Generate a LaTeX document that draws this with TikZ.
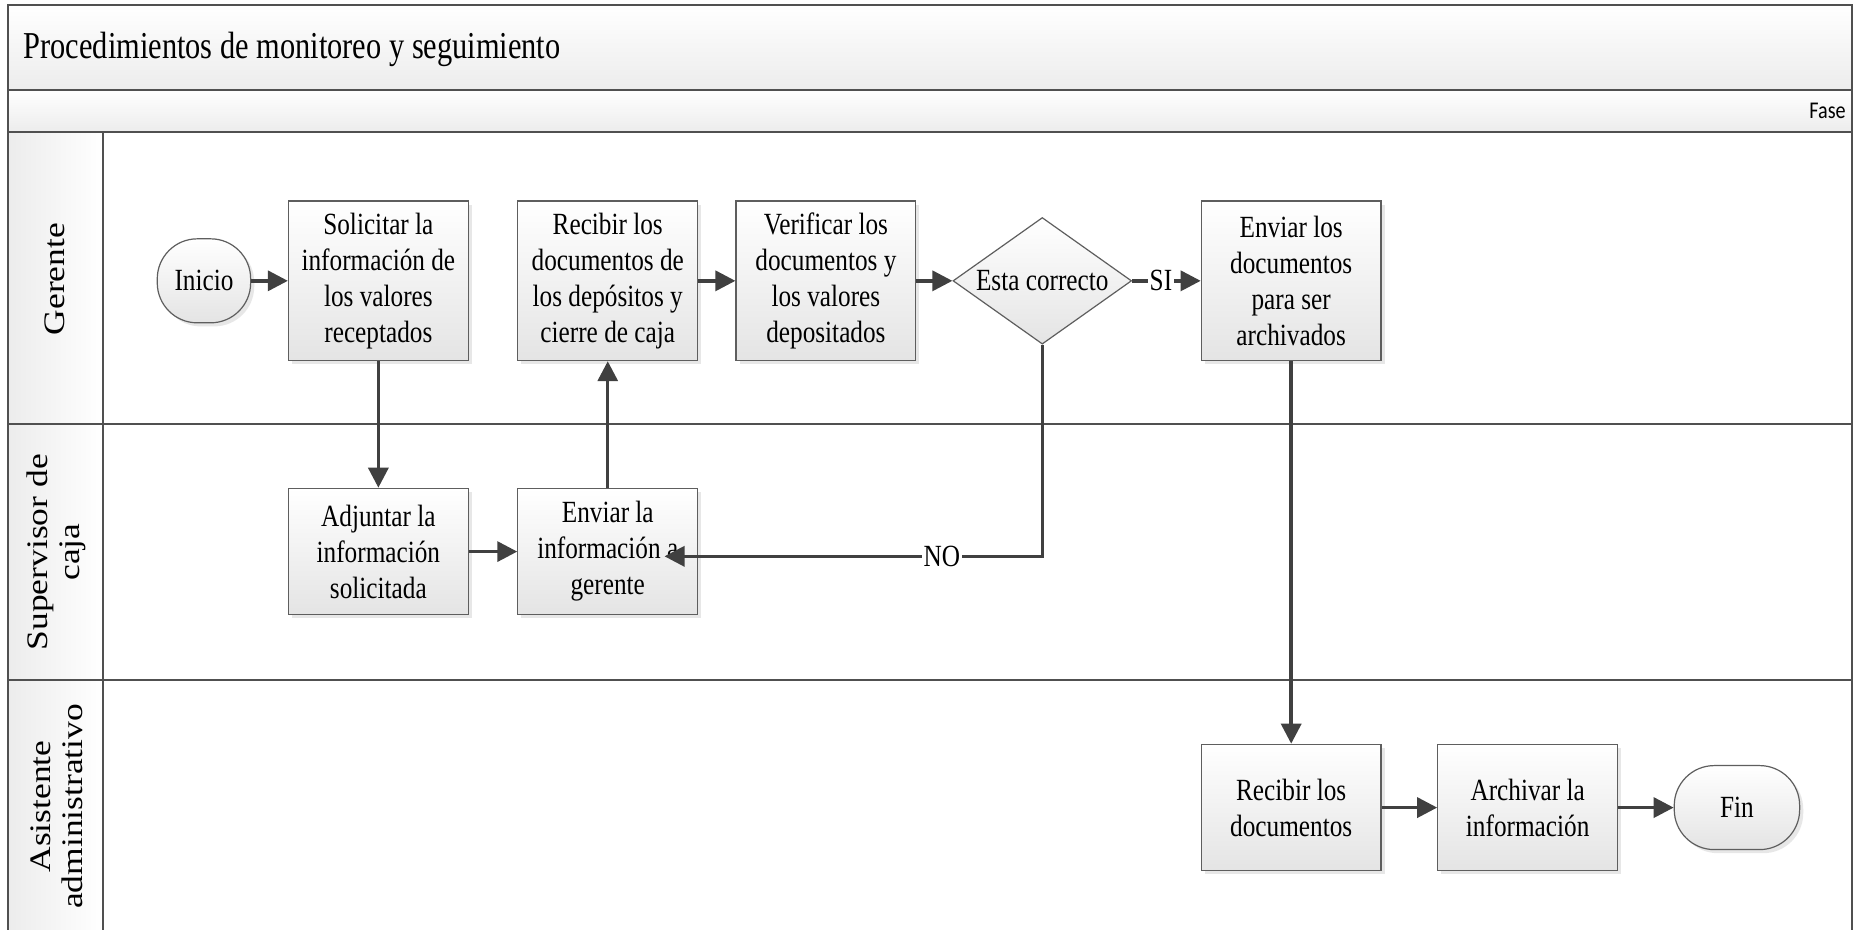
\documentclass[tikz,border=0pt]{standalone}
\usepackage{fontspec}
\setmainfont{Liberation Serif}
\newfontfamily\boxfont[FakeStretch=0.82]{Liberation Serif}
\newfontfamily\titlefont[FakeStretch=0.80]{Liberation Serif}
\newfontfamily\lanefont[FakeStretch=1.19]{Liberation Serif}
\newfontfamily\fasefont[FakeStretch=0.84]{Carlito}
\usetikzlibrary{shapes.geometric,arrows.meta,shadows,calc}

\definecolor{linec}{HTML}{404040}
\definecolor{framec}{HTML}{505050}
\definecolor{boxedge}{HTML}{5E5E5E}
\definecolor{boxlow}{HTML}{E4E4E4}
\definecolor{bandlow}{HTML}{ECECEC}

\tikzset{
  boxtext/.style={font=\boxfont\fontsize{15.4}{18}\selectfont},
  stepbox/.style={draw=boxedge, line width=0.6pt, top color=white, bottom color=boxlow,
    drop shadow={shadow xshift=1.8pt, shadow yshift=-1.8pt, fill=black!18},
    minimum width=89.9pt, align=center, inner sep=2pt, boxtext},
  tallbox/.style={stepbox, minimum height=79.8pt},
  shortbox/.style={stepbox, minimum height=63.3pt},
  terminal/.style={stepbox, rounded corners=20pt, minimum height=42pt},
  decision/.style={diamond, aspect=1.41, draw=boxedge, line width=0.6pt,
    top color=white, bottom color=boxlow, minimum width=89.3pt,
    minimum height=63.3pt, inner sep=0pt, boxtext},
  flow/.style={draw=linec, line width=1.7pt, -{Triangle[length=10pt,width=10pt]}},
  lbl/.style={fill=white, inner sep=0.8pt, boxtext},
  band/.style={draw=framec, line width=1pt, top color=white, bottom color=bandlow},
  lanebox/.style={draw=framec, line width=1pt, fill=white},
  lanehead/.style={draw=framec, line width=1pt, left color=bandlow, right color=white},
  lanelabel/.style={rotate=90, align=center, font=\lanefont\fontsize{14.9}{16}\selectfont},
}

\begin{document}
\begin{tikzpicture}[x=0.5912pt, y=-0.5912pt]
  \useasboundingbox (0,0) rectangle (1568,786);
  \clip (0,0) rectangle (1568,786);

  % title and phase bands
  \path[band] (7,4) rectangle (1566,76);
  \node[anchor=west, font=\titlefont\fontsize{19}{21}\selectfont] (title) at (14,42)
    {Procedimientos de monitoreo y seguimiento};
  \path[band] (7,76) rectangle (1566,112);
  \node[anchor=east, font=\fasefont\fontsize{12}{14}\selectfont, inner sep=1pt] (fase) at (1563,94) {Fase};

  % swimlanes
  \path[lanebox] (7,112) rectangle (1566,359);
  \path[lanebox] (7,359) rectangle (1566,575);
  \path[lanebox] (7,575) rectangle (1566,820);
  \path[lanehead] (7,112) rectangle (87,359);
  \path[lanehead] (7,359) rectangle (87,575);
  \path[lanehead] (7,575) rectangle (87,820);
  \node[lanelabel] (l1) at (46,236) {Gerente};
  \node[lanelabel] (l2) at (48,467) {Supervisor de\\caja};
  \node[lanelabel] (l3) at (48,682) {Asistente\\administrativo};

  % Gerente
  \node[terminal, minimum width=46.7pt] (ini) at (172.5,237.5) {Inicio};
  \node[tallbox] (sol) at (320,237.5) {Solicitar la\\información de\\los valores\\receptados};
  \node[tallbox] (rec) at (514,237.5) {Recibir los\\documentos de\\los depósitos y\\cierre de caja};
  \node[tallbox] (ver) at (698.5,237.5) {Verificar los\\documentos y\\los valores\\depositados};
  \node[decision] (dia) at (881.5,237.5) {Esta correcto};
  \node[tallbox] (env) at (1092,237.5) {Enviar los\\documentos\\para ser\\archivados};

  % Supervisor de caja
  \node[shortbox] (adj) at (320,466.5) {Adjuntar la\\información\\solicitada};
  \node[shortbox] (eng) at (514,466.5) {Enviar la\\información a\\gerente};

  % Asistente administrativo
  \node[shortbox] (rdo) at (1092,683) {Recibir los\\documentos};
  \node[shortbox] (arc) at (1292,683) {Archivar la\\información};
  \node[terminal, minimum width=62.7pt] (fin) at (1469,683) {Fin};

  % connectors
  \draw[flow] (ini) -- (sol);
  \draw[flow] (sol) -- (adj);
  \draw[flow] (adj) -- (eng);
  \draw[flow] (eng) -- (rec);
  \draw[flow] (rec) -- (ver);
  \draw[flow] (ver) -- (dia);
  \draw[flow] (dia.east) -- node[lbl, pos=0.42] {SI} (env.west);
  \draw[flow] (dia.south) |- node[lbl, pos=0.633] {NO} ($(eng.center)+(48,4)$);
  \draw[flow] (env) -- (rdo);
  \draw[flow] (rdo) -- (arc);
  \draw[flow] (arc) -- (fin);
\end{tikzpicture}
\end{document}
